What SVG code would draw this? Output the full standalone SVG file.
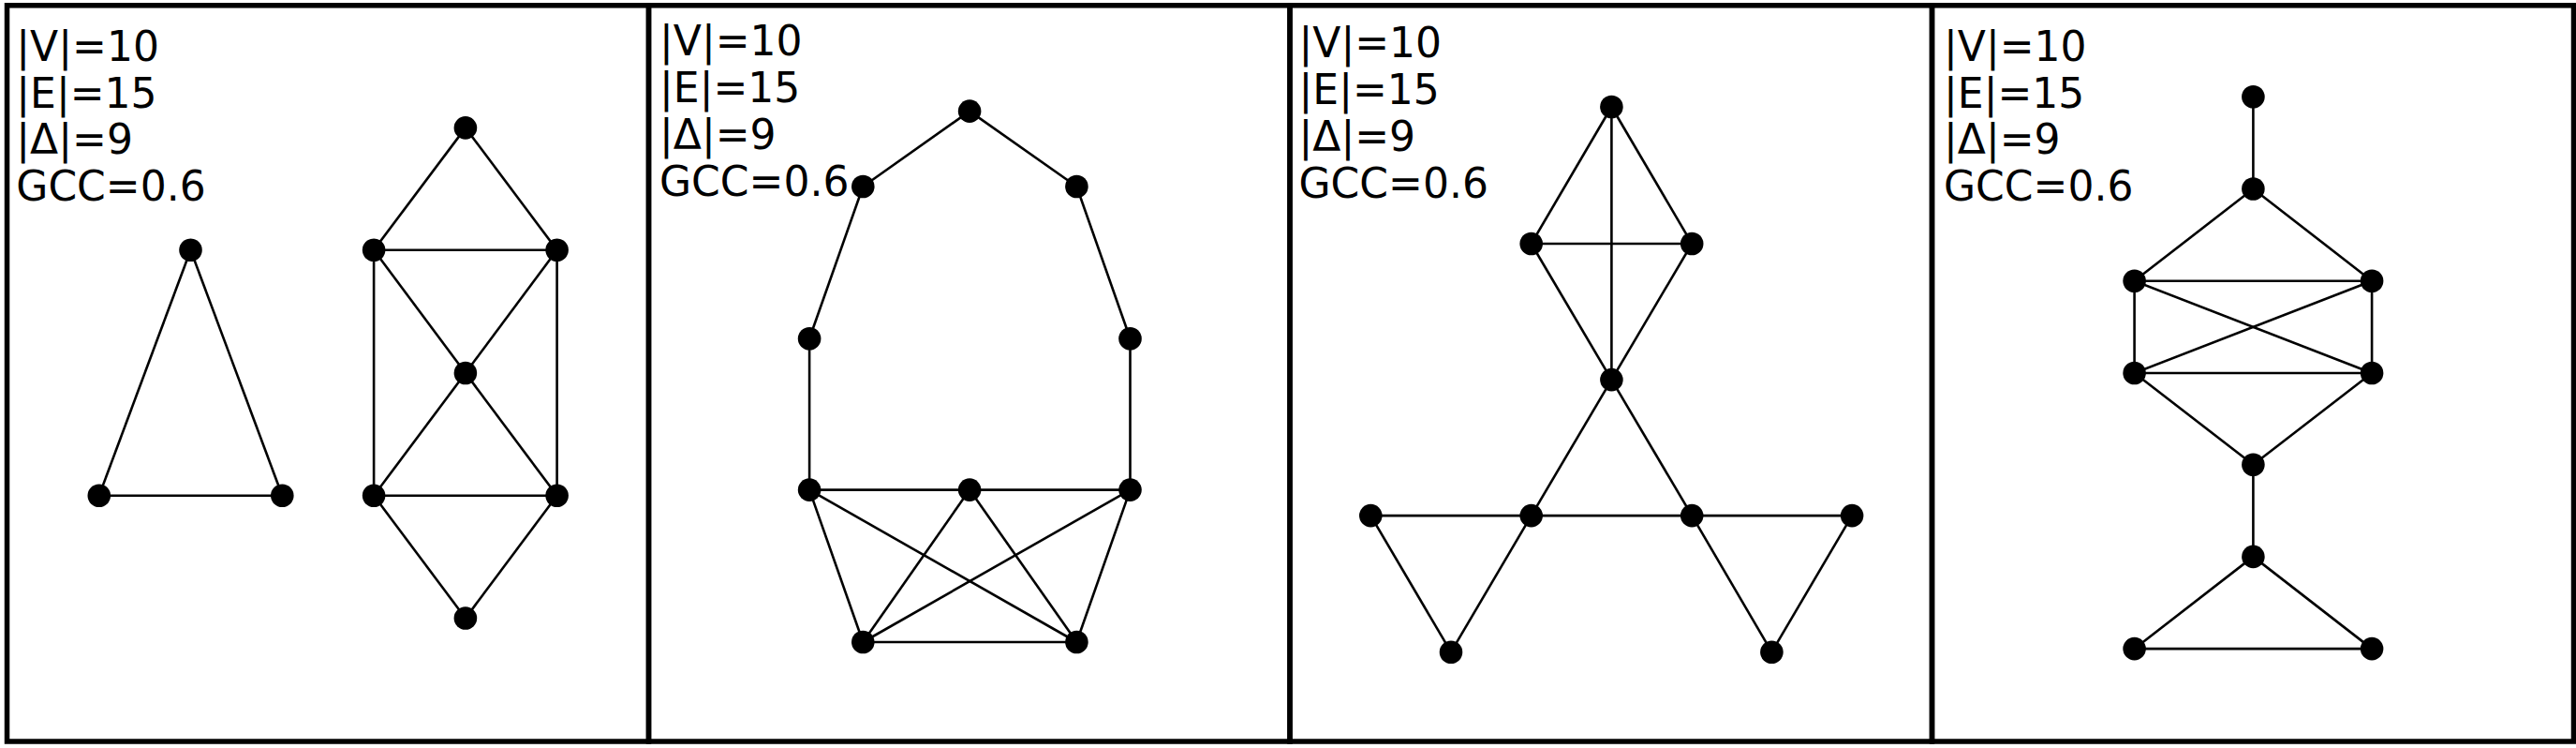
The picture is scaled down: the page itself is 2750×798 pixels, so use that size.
<svg xmlns="http://www.w3.org/2000/svg" width="2750" height="798" viewBox="0 0 2750 798">
<style>
.frame{fill:none;stroke:#000;stroke-width:5.5}
.e{stroke:#000;stroke-width:2.6;fill:none}
.n{fill:#000}
.t{font-family:"DejaVu Sans",sans-serif;font-size:44px;fill:#000}
</style>
<rect x="0" y="0" width="2750" height="798" fill="#fff"/>
<g id="frames">
<rect class="frame" x="7.5" y="5.8" width="685" height="785.2"/>
<rect class="frame" x="692.5" y="5.8" width="684.5" height="785.2"/>
<rect class="frame" x="1377" y="5.8" width="685.5" height="785.2"/>
<rect class="frame" x="2062.5" y="5.8" width="685" height="785.2"/>
</g>
<g id="labels">
<text class="t" x="17.3"><tspan x="17.3" y="65">|V|=10</tspan><tspan x="17.3" y="114.5">|E|=15</tspan><tspan x="17.3" y="164">|Δ|=9</tspan><tspan x="17.3" y="213.5">GCC=0.6</tspan></text>
<text class="t" x="704"><tspan x="704" y="59">|V|=10</tspan><tspan x="704" y="109">|E|=15</tspan><tspan x="704" y="159">|Δ|=9</tspan><tspan x="704" y="209">GCC=0.6</tspan></text>
<text class="t" x="1386.5"><tspan x="1386.5" y="61">|V|=10</tspan><tspan x="1386.5" y="111">|E|=15</tspan><tspan x="1386.5" y="161">|Δ|=9</tspan><tspan x="1386.5" y="211">GCC=0.6</tspan></text>
<text class="t" x="2075"><tspan x="2075" y="65">|V|=10</tspan><tspan x="2075" y="114.5">|E|=15</tspan><tspan x="2075" y="164">|Δ|=9</tspan><tspan x="2075" y="213.5">GCC=0.6</tspan></text>
</g>
<g id="connectors">
<!-- panel 1 -->
<line class="e" x1="203.5" y1="266.7" x2="105.8" y2="528.8"/>
<line class="e" x1="203.5" y1="266.7" x2="301.3" y2="528.8"/>
<line class="e" x1="105.8" y1="528.8" x2="301.3" y2="528.8"/>
<line class="e" x1="496.9" y1="136.4" x2="399.1" y2="266.7"/>
<line class="e" x1="496.9" y1="136.4" x2="594.6" y2="266.7"/>
<line class="e" x1="399.1" y1="266.7" x2="594.6" y2="266.7"/>
<line class="e" x1="399.1" y1="266.7" x2="399.1" y2="528.8"/>
<line class="e" x1="594.6" y1="266.7" x2="594.6" y2="528.8"/>
<line class="e" x1="399.1" y1="266.7" x2="496.9" y2="398"/>
<line class="e" x1="594.6" y1="266.7" x2="496.9" y2="398"/>
<line class="e" x1="496.9" y1="398" x2="399.1" y2="528.8"/>
<line class="e" x1="496.9" y1="398" x2="594.6" y2="528.8"/>
<line class="e" x1="399.1" y1="528.8" x2="594.6" y2="528.8"/>
<line class="e" x1="399.1" y1="528.8" x2="496.9" y2="659.5"/>
<line class="e" x1="594.6" y1="528.8" x2="496.9" y2="659.5"/>
<!-- panel 2 -->
<line class="e" x1="1035.1" y1="118.6" x2="921.3" y2="199"/>
<line class="e" x1="1035.1" y1="118.6" x2="1149.4" y2="199"/>
<line class="e" x1="921.3" y1="199" x2="864.1" y2="361.3"/>
<line class="e" x1="1149.4" y1="199" x2="1206.5" y2="361.3"/>
<line class="e" x1="864.1" y1="361.3" x2="864.1" y2="522.6"/>
<line class="e" x1="1206.5" y1="361.3" x2="1206.5" y2="522.6"/>
<line class="e" x1="864.1" y1="522.6" x2="1206.5" y2="522.6"/>
<line class="e" x1="864.1" y1="522.6" x2="921.3" y2="685"/>
<line class="e" x1="864.1" y1="522.6" x2="1149.4" y2="685"/>
<line class="e" x1="1035.1" y1="522.6" x2="921.3" y2="685"/>
<line class="e" x1="1035.1" y1="522.6" x2="1149.4" y2="685"/>
<line class="e" x1="1206.5" y1="522.6" x2="921.3" y2="685"/>
<line class="e" x1="1206.5" y1="522.6" x2="1149.4" y2="685"/>
<line class="e" x1="921.3" y1="685" x2="1149.4" y2="685"/>
<!-- panel 3 -->
<line class="e" x1="1720.4" y1="114" x2="1634.7" y2="260"/>
<line class="e" x1="1720.4" y1="114" x2="1806.2" y2="260"/>
<line class="e" x1="1720.4" y1="114" x2="1720.4" y2="405.1"/>
<line class="e" x1="1634.7" y1="260" x2="1806.2" y2="260"/>
<line class="e" x1="1634.7" y1="260" x2="1720.4" y2="405.1"/>
<line class="e" x1="1806.2" y1="260" x2="1720.4" y2="405.1"/>
<line class="e" x1="1720.4" y1="405.1" x2="1634.7" y2="550.1"/>
<line class="e" x1="1720.4" y1="405.1" x2="1806.2" y2="550.1"/>
<line class="e" x1="1463.3" y1="550.1" x2="1977.1" y2="550.1"/>
<line class="e" x1="1463.3" y1="550.1" x2="1549" y2="695.7"/>
<line class="e" x1="1634.7" y1="550.1" x2="1549" y2="695.7"/>
<line class="e" x1="1806.2" y1="550.1" x2="1891.4" y2="695.7"/>
<line class="e" x1="1977.1" y1="550.1" x2="1891.4" y2="695.7"/>
<!-- panel 4 -->
<line class="e" x1="2405.4" y1="103.3" x2="2405.4" y2="201.5"/>
<line class="e" x1="2405.4" y1="201.5" x2="2278.6" y2="299.7"/>
<line class="e" x1="2405.4" y1="201.5" x2="2532.1" y2="299.7"/>
<line class="e" x1="2278.6" y1="299.7" x2="2532.1" y2="299.7"/>
<line class="e" x1="2278.6" y1="299.7" x2="2278.6" y2="398"/>
<line class="e" x1="2532.1" y1="299.7" x2="2532.1" y2="398"/>
<line class="e" x1="2278.6" y1="299.7" x2="2532.1" y2="398"/>
<line class="e" x1="2532.1" y1="299.7" x2="2278.6" y2="398"/>
<line class="e" x1="2278.6" y1="398" x2="2532.1" y2="398"/>
<line class="e" x1="2278.6" y1="398" x2="2405.4" y2="495.7"/>
<line class="e" x1="2532.1" y1="398" x2="2405.4" y2="495.7"/>
<line class="e" x1="2405.4" y1="495.7" x2="2405.4" y2="593.9"/>
<line class="e" x1="2405.4" y1="593.9" x2="2278.6" y2="692.1"/>
<line class="e" x1="2405.4" y1="593.9" x2="2532.1" y2="692.1"/>
<line class="e" x1="2278.6" y1="692.1" x2="2532.1" y2="692.1"/>
</g>
<g id="p1n1"><circle class="n" cx="203.5" cy="266.7" r="12.3"/></g>
<g id="p1n2"><circle class="n" cx="105.8" cy="528.8" r="12.3"/></g>
<g id="p1n3"><circle class="n" cx="301.3" cy="528.8" r="12.3"/></g>
<g id="p1n4"><circle class="n" cx="496.9" cy="136.4" r="12.3"/></g>
<g id="p1n5"><circle class="n" cx="399.1" cy="266.7" r="12.3"/></g>
<g id="p1n6"><circle class="n" cx="594.6" cy="266.7" r="12.3"/></g>
<g id="p1n7"><circle class="n" cx="496.9" cy="398" r="12.3"/></g>
<g id="p1n8"><circle class="n" cx="399.1" cy="528.8" r="12.3"/></g>
<g id="p1n9"><circle class="n" cx="594.6" cy="528.8" r="12.3"/></g>
<g id="p1n10"><circle class="n" cx="496.9" cy="659.5" r="12.3"/></g>
<g id="p2n1"><circle class="n" cx="1035.1" cy="118.6" r="12.3"/></g>
<g id="p2n2"><circle class="n" cx="921.3" cy="199" r="12.3"/></g>
<g id="p2n3"><circle class="n" cx="1149.4" cy="199" r="12.3"/></g>
<g id="p2n4"><circle class="n" cx="864.1" cy="361.3" r="12.3"/></g>
<g id="p2n5"><circle class="n" cx="1206.5" cy="361.3" r="12.3"/></g>
<g id="p2n6"><circle class="n" cx="864.1" cy="522.6" r="12.3"/></g>
<g id="p2n7"><circle class="n" cx="1035.1" cy="522.6" r="12.3"/></g>
<g id="p2n8"><circle class="n" cx="1206.5" cy="522.6" r="12.3"/></g>
<g id="p2n9"><circle class="n" cx="921.3" cy="685" r="12.3"/></g>
<g id="p2n10"><circle class="n" cx="1149.4" cy="685" r="12.3"/></g>
<g id="p3n1"><circle class="n" cx="1720.4" cy="114" r="12.3"/></g>
<g id="p3n2"><circle class="n" cx="1634.7" cy="260" r="12.3"/></g>
<g id="p3n3"><circle class="n" cx="1806.2" cy="260" r="12.3"/></g>
<g id="p3n4"><circle class="n" cx="1720.4" cy="405.1" r="12.3"/></g>
<g id="p3n5"><circle class="n" cx="1463.3" cy="550.1" r="12.3"/></g>
<g id="p3n6"><circle class="n" cx="1634.7" cy="550.1" r="12.3"/></g>
<g id="p3n7"><circle class="n" cx="1806.2" cy="550.1" r="12.3"/></g>
<g id="p3n8"><circle class="n" cx="1977.1" cy="550.1" r="12.3"/></g>
<g id="p3n9"><circle class="n" cx="1549" cy="695.7" r="12.3"/></g>
<g id="p3n10"><circle class="n" cx="1891.4" cy="695.7" r="12.3"/></g>
<g id="p4n1"><circle class="n" cx="2405.4" cy="103.3" r="12.3"/></g>
<g id="p4n2"><circle class="n" cx="2405.4" cy="201.5" r="12.3"/></g>
<g id="p4n3"><circle class="n" cx="2278.6" cy="299.7" r="12.3"/></g>
<g id="p4n4"><circle class="n" cx="2532.1" cy="299.7" r="12.3"/></g>
<g id="p4n5"><circle class="n" cx="2278.6" cy="398" r="12.3"/></g>
<g id="p4n6"><circle class="n" cx="2532.1" cy="398" r="12.3"/></g>
<g id="p4n7"><circle class="n" cx="2405.4" cy="495.7" r="12.3"/></g>
<g id="p4n8"><circle class="n" cx="2405.4" cy="593.9" r="12.3"/></g>
<g id="p4n9"><circle class="n" cx="2278.6" cy="692.1" r="12.3"/></g>
<g id="p4n10"><circle class="n" cx="2532.1" cy="692.1" r="12.3"/></g>
</svg>
